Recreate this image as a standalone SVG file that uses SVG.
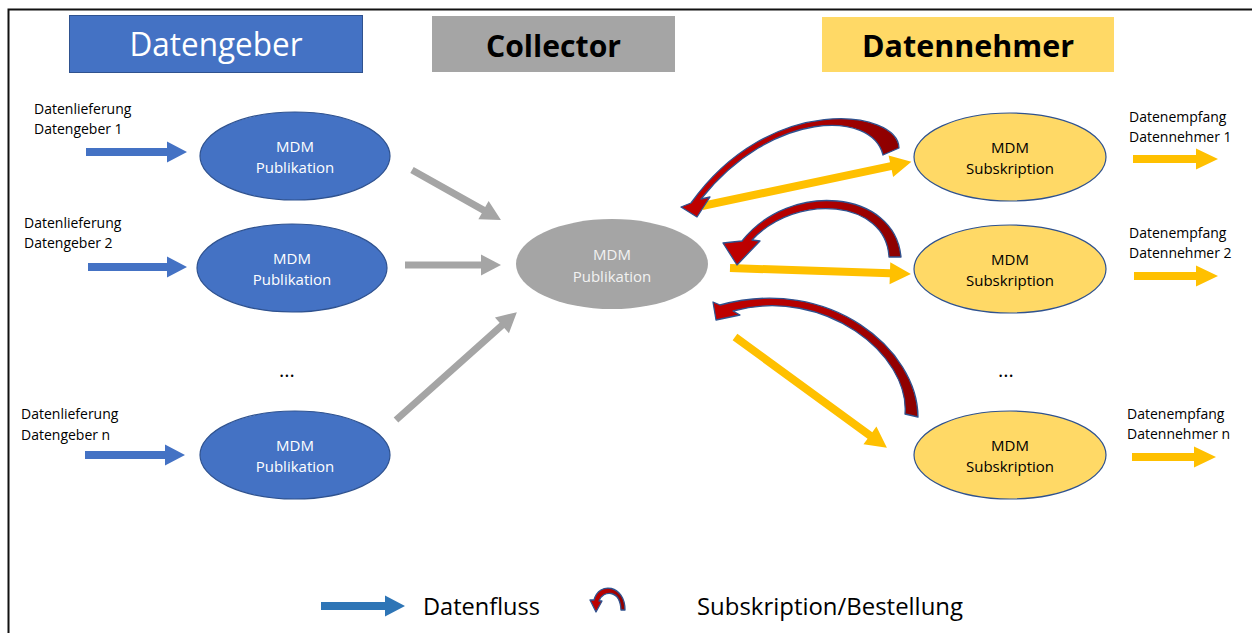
<svg xmlns="http://www.w3.org/2000/svg" width="1252" height="633" viewBox="0 0 1252 633">
  <defs>
    <linearGradient id="subGrad" x1="0" y1="0" x2="1" y2="0">
      <stop offset="0" stop-color="#C00000"/>
      <stop offset="0.55" stop-color="#B00000"/>
      <stop offset="1" stop-color="#8B0000"/>
    </linearGradient>
    <style>
      .t { font-family: "Open Sans", "Liberation Sans", sans-serif; }
      .hdr { font-size: 32.5px; }
      .hdrb { font-size: 30.5px; font-weight: bold; fill: #000; }
      .lbl { font-size: 14px; fill: #000; }
      .node { font-size: 15px; text-anchor: middle; }
      .leg { font-size: 23px; fill: #000; }
      .blue { fill: #4472C4; stroke: #2F528F; stroke-width: 1.2; }
      .grayN { fill: #A5A5A5; }
      .yel { fill: #FFD966; stroke: #2F528F; stroke-width: 1.2; }
      .aBlue { fill: #4472C4; }
      .aGray { fill: #A5A5A5; }
      .aYel { fill: #FFC000; }
      .sub { fill: url(#subGrad); stroke: #2F528F; stroke-width: 1.3; stroke-linejoin: round; }
    </style>
  </defs>

  <rect width="1252" height="633" fill="#FFFFFF"/>
  <!-- outer frame (left and top edges) -->
  <path d="M8.5,633 V9.5 H1252" fill="none" stroke="#111" stroke-width="2"/>

  <!-- column headers -->
  <g id="hdr-datengeber">
    <rect x="69.5" y="15.5" width="293" height="57" fill="#4472C4" stroke="#2F528F" stroke-width="1"/>
    <text class="t hdr" x="216" y="56" text-anchor="middle" fill="#FFFFFF" textLength="173" lengthAdjust="spacingAndGlyphs">Datengeber</text>
  </g>
  <g id="hdr-collector">
    <rect x="432" y="16" width="243" height="56" fill="#A5A5A5"/>
    <text class="t hdrb" x="553.5" y="57" text-anchor="middle" textLength="135" lengthAdjust="spacingAndGlyphs">Collector</text>
  </g>
  <g id="hdr-datennehmer">
    <rect x="822" y="17" width="292" height="55" fill="#FFD966"/>
    <text class="t hdrb" x="968" y="57" text-anchor="middle" textLength="212" lengthAdjust="spacingAndGlyphs">Datennehmer</text>
  </g>

  <!-- input labels -->
  <g id="in-1"><text class="t lbl" x="34" y="114">Datenlieferung</text><text class="t lbl" x="34" y="134">Datengeber 1</text></g>
  <g id="in-2"><text class="t lbl" x="24" y="228">Datenlieferung</text><text class="t lbl" x="24" y="248">Datengeber 2</text></g>
  <g id="in-n"><text class="t lbl" x="21" y="419">Datenlieferung</text><text class="t lbl" x="21" y="440">Datengeber n</text></g>

  <!-- output labels -->
  <g id="out-1"><text class="t lbl" x="1129" y="122">Datenempfang</text><text class="t lbl" x="1129" y="142">Datennehmer 1</text></g>
  <g id="out-2"><text class="t lbl" x="1129" y="238">Datenempfang</text><text class="t lbl" x="1129" y="258">Datennehmer 2</text></g>
  <g id="out-n"><text class="t lbl" x="1127" y="419">Datenempfang</text><text class="t lbl" x="1127" y="439">Datennehmer n</text></g>

  <!-- publisher nodes -->
  <g id="pub-1">
    <ellipse class="blue" cx="295" cy="156" rx="95" ry="44"/>
    <text class="t node" x="295" y="152" fill="#FFFFFF">MDM</text>
    <text class="t node" x="295" y="173" fill="#FFFFFF">Publikation</text>
  </g>
  <g id="pub-2">
    <ellipse class="blue" cx="292" cy="268" rx="95" ry="44"/>
    <text class="t node" x="292" y="264" fill="#FFFFFF">MDM</text>
    <text class="t node" x="292" y="285" fill="#FFFFFF">Publikation</text>
  </g>
  <g id="pub-n">
    <ellipse class="blue" cx="295" cy="455" rx="95" ry="44"/>
    <text class="t node" x="295" y="451" fill="#FFFFFF">MDM</text>
    <text class="t node" x="295" y="472" fill="#FFFFFF">Publikation</text>
  </g>
  <text id="dots-left" class="t" x="287" y="377" font-size="20" text-anchor="middle" fill="#000">...</text>

  <!-- collector node -->
  <g id="collector">
    <ellipse class="grayN" cx="612" cy="264" rx="96" ry="45"/>
    <text class="t node" x="612" y="260" fill="#F2F2F2">MDM</text>
    <text class="t node" x="612" y="282" fill="#F2F2F2">Publikation</text>
  </g>

  <!-- subscriber nodes -->
  <g id="sub-1">
    <ellipse class="yel" cx="1010" cy="157" rx="96" ry="44"/>
    <text class="t node" x="1010" y="153" fill="#000">MDM</text>
    <text class="t node" x="1010" y="174" fill="#000">Subskription</text>
  </g>
  <g id="sub-2">
    <ellipse class="yel" cx="1010" cy="269" rx="96" ry="44"/>
    <text class="t node" x="1010" y="265" fill="#000">MDM</text>
    <text class="t node" x="1010" y="286" fill="#000">Subskription</text>
  </g>
  <g id="sub-n">
    <ellipse class="yel" cx="1010" cy="455" rx="96" ry="44"/>
    <text class="t node" x="1010" y="451" fill="#000">MDM</text>
    <text class="t node" x="1010" y="472" fill="#000">Subskription</text>
  </g>
  <text id="dots-right" class="t" x="1006" y="377" font-size="20" text-anchor="middle" fill="#000">...</text>

  <!-- connectors -->
  <g id="connectors">
    <!-- incoming deliveries -->
    <path class="aBlue" d="M86,148 H167 V141.5 L187,152 L167,162.5 V156 H86Z"/>
    <path class="aBlue" d="M88,263 H167 V256.5 L187,267 L167,277.5 V271 H88Z"/>
    <path class="aBlue" d="M85,451 H165 V444.5 L185,455 L165,465.5 V459 H85Z"/>

    <!-- publishers to collector -->
    <path class="aGray" transform="translate(412,170) rotate(29.3)" d="M0,-3.5 L82,-3.5 L82,-10.5 L102,0 L82,10.5 L82,3.5 L0,3.5Z"/>
    <path class="aGray" transform="translate(405,265)" d="M0,-3.5 L76,-3.5 L76,-10.5 L96,0 L76,10.5 L76,3.5 L0,3.5Z"/>
    <path class="aGray" transform="translate(396,420) rotate(-41.75)" d="M0,-3.5 L142,-3.5 L142,-10.5 L162,0 L142,10.5 L142,3.5 L0,3.5Z"/>

    <!-- collector to subscribers -->
    <path class="aYel" transform="translate(702,206) rotate(-11.9)" d="M0,-4 L193,-4 L193,-11 L214,0 L193,11 L193,4 L0,4Z"/>
    <path class="aYel" transform="translate(730,268) rotate(1.9)" d="M0,-4 L160,-4 L160,-11 L181,0 L160,11 L160,4 L0,4Z"/>
    <path class="aYel" transform="translate(735,337) rotate(36.1)" d="M0,-4 L167,-4 L167,-11 L188,0 L167,11 L167,4 L0,4Z"/>

    <!-- outgoing receipts -->
    <path class="aYel" d="M1133,155 H1196 V148.5 L1218,159 L1196,169.5 V163 H1133Z"/>
    <path class="aYel" d="M1134,272 H1196 V265.5 L1218,276 L1196,286.5 V280 H1134Z"/>
    <path class="aYel" d="M1132,453 H1194 V446.5 L1216,457 L1194,467.5 V461 H1132Z"/>

    <!-- subscription requests (curved) -->
    <path class="sub" d="M899,148 C898,110 770,92 691,203 L681,207 L697,217 L710,197 L701,199 C772,110 872,110 883,155 Z"/>
    <path class="sub" d="M901,257 C895,190 790,180 742,241 L723,243 L737,265 L760,241 L752,240 C797,192 886,200 889,257 Z"/>
    <path class="sub" d="M918,417 C918,350 830,275 720,305 L713,302 L716,320 L740,315 L733,311 C825,286 910,355 905,414 Z"/>
  </g>

  <!-- legend -->
  <g id="legend">
    <path fill="#2E75B6" d="M321,602 H385 V595.5 L405,606 L385,616.5 V610 H321Z"/>
    <text class="t leg" x="423" y="615" textLength="117" lengthAdjust="spacingAndGlyphs">Datenfluss</text>
    <path class="sub" stroke-width="0.9" d="M625,610 C625,585 599,581 594,600 L590,600 L596,612 L602,601 L599,601 C603,590 620,589 621,610 Z"/>
    <text class="t leg" x="697" y="615" textLength="266" lengthAdjust="spacingAndGlyphs">Subskription/Bestellung</text>
  </g>
</svg>
